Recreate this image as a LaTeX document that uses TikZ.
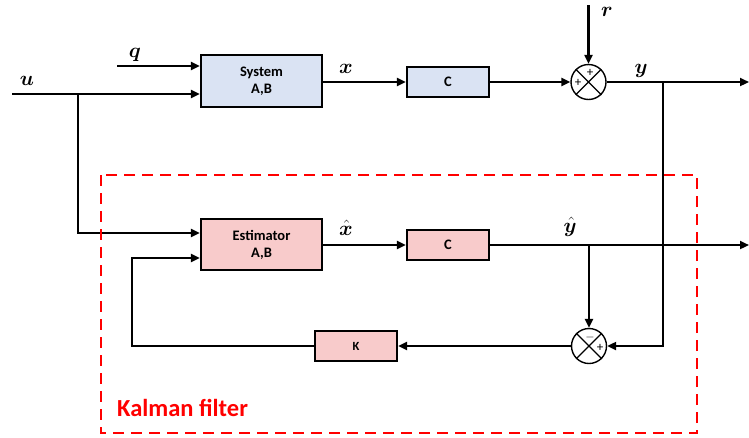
\documentclass[tikz,border=0pt]{standalone}
\usepackage{fontspec}
\setmainfont{Carlito}
\usepackage{amsmath,bm}
\usetikzlibrary{arrows.meta,calc}
\definecolor{sysblue}{HTML}{DAE3F3}
\definecolor{estpink}{HTML}{F8CBCB}
\begin{document}
\begin{tikzpicture}[x=1pt,y=-1pt,
  wire/.style={line width=2.2pt},
  arr/.style={wire,-{Triangle[length=9pt,width=8pt]}},
  blk/.style={draw,line width=2.2pt,inner sep=0pt,align=center,font=\fontsize{14.5}{17}\selectfont\bfseries},
  sumc/.style={draw,circle,line width=1.4pt,minimum size=35pt,inner sep=0pt},
  sgn/.style={inner sep=0pt,font=\fontsize{13}{13}\selectfont},
  lbl/.style={inner sep=0pt,anchor=base,font=\fontsize{20}{24}\selectfont},
  kal/.style={draw=red,line width=2.6pt,dash pattern=on 11pt off 7pt}]
\useasboundingbox (0,0) rectangle (749,437);
% blocks
\node[blk,fill=sysblue,minimum width=121pt,minimum height=52pt] (sys) at (261.5,81) {System\\A,B};
\node[blk,fill=sysblue,minimum width=82pt,minimum height=30pt] (c1) at (448,82) {C};
\node[sumc] (s1) at (588.5,82) {};
\node[blk,fill=estpink,minimum width=121pt,minimum height=51pt] (est) at (261.5,244.5) {Estimator\\A,B};
\node[blk,fill=estpink,minimum width=82pt,minimum height=30pt] (c2) at (448,245) {C};
\node[sumc] (s2) at (589,346) {};
\node[blk,fill=estpink,minimum width=82pt,minimum height=30pt,font=\fontsize{12.5}{14}\selectfont\bfseries] (k) at (356,346) {K};
% crosses in summers
\draw[line width=1.2pt] (s1.north east) -- (s1.south west) (s1.north west) -- (s1.south east);
\draw[line width=1.2pt] (s2.north east) -- (s2.south west) (s2.north west) -- (s2.south east);
\node[sgn] (s1p1) at (590,72.5) {+};
\node[sgn] (s1p2) at (578,83) {+};
\node[sgn] (s2m) at (590,337) {$-$};
\node[sgn] (s2p) at (600,348) {+};
% free ends and branch points
\coordinate (uin) at (12,94);
\coordinate (qin) at (117,66);
\coordinate (rin) at (588.5,5);
\coordinate (yout) at (749,82);
\coordinate (yhout) at (749,245);
\coordinate (ub) at (78,94);
\coordinate (yb) at (663,82);
\coordinate (yhb) at (589,245);
\coordinate (fb) at (132,258);
\coordinate (ei1) at (78,233);
% connectors
\draw[arr] (uin) -- (uin -| sys.west);
\draw[arr] (qin) -- (qin -| sys.west);
\draw[arr] (ub) -- (ei1) -- (ei1 -| est.west);
\draw[arr] (sys.east |- c1.west) -- (c1.west);
\draw[arr] (c1.east) -- (s1.west);
\draw[arr] (rin) -- (s1.north);
\draw[arr] (s1.east) -- (yout);
\draw[arr] (yb) |- (s2.east);
\draw[arr] (est.east |- c2.west) -- (c2.west);
\draw[arr] (c2.east) -- (yhout);
\draw[arr] (yhb) -- (s2.north);
\draw[arr] (s2.west) -- (k.east);
\draw[arr] (k.west) -| (fb) -- (fb -| est.west);
% labels
\node[lbl] (lu) at (27,85) {$\bm{u}$};
\node[lbl] (lq) at (135,57) {$\bm{q}$};
\node[lbl] (lx) at (346,73) {$\bm{x}$};
\node[lbl] (ly) at (641,73) {$\bm{y}$};
\node[lbl] (lr) at (607,16) {$\bm{r}$};
\node[lbl] (lxh) at (346,235) {$\hat{\bm{x}}$};
\node[lbl] (lyh) at (570,232) {$\hat{\bm{y}}$};
% Kalman filter box
\draw[kal] (101,175) rectangle (697,433);
\node[anchor=west,inner sep=0pt,text=red,font=\fontsize{24.5}{28}\selectfont\bfseries] (kl) at (117,408) {Kalman filter};
\end{tikzpicture}
\end{document}
